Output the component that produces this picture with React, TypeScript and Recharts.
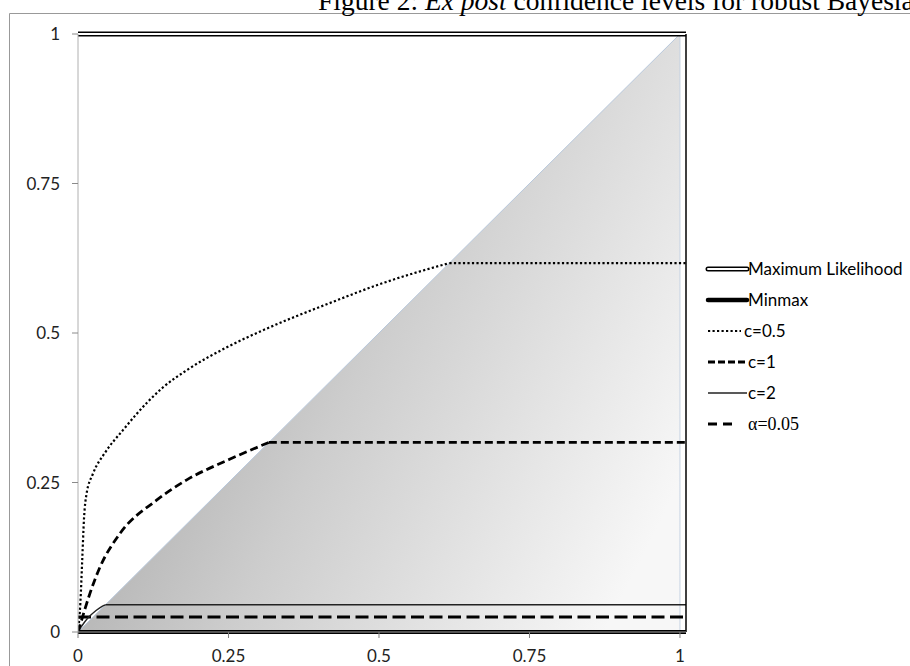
import React from "react";
import { ComposedChart, Line, Area, XAxis, YAxis, ReferenceLine } from "recharts";

// ---- data ----
const X_MAX = 1.01;
const xTicks = [0, 0.25, 0.5, 0.75, 1];
const yTicks = [0, 0.25, 0.5, 0.75, 1];

const triangleX = [0, 1];
const triangleY = [0, 1];

const c05CurveX = [0, 0.004, 0.007, 0.01, 0.014, 0.025, 0.045, 0.075, 0.116, 0.14, 0.184, 0.249, 0.315, 0.413, 0.511, 0.617];
const c05CurveY = [0, 0.05, 0.12, 0.19, 0.23, 0.265, 0.3, 0.338, 0.385, 0.408, 0.44, 0.477, 0.508, 0.548, 0.585, 0.617];
const c05Level = 0.617;

const c1CurveX = [0, 0.006, 0.012, 0.02, 0.035, 0.07, 0.13, 0.18, 0.25, 0.317];
const c1CurveY = [0, 0.02, 0.04, 0.065, 0.105, 0.165, 0.22, 0.254, 0.288, 0.317];
const c1Level = 0.317;

const c2CurveX = [0, 0.005, 0.012, 0.02, 0.03, 0.04, 0.0455];
const c2CurveY = [0, 0.008, 0.018, 0.027, 0.036, 0.043, 0.0455];
const c2Level = 0.0455;

const alphaLevel = 0.025;
const mlLevel = 1;
const minmaxLevel = 0;

const legendNames = ["Maximum Likelihood", "Minmax", "c=0.5", "c=1", "c=2", "α=0.05"];
const titleText = "Figure 2: ";
const titleItalic = "Ex post";
const titleRest = " confidence levels for robust Bayesian";

// ---- helpers ----
const pts = (xs: number[], ys: number[]) => xs.map((x, i) => ({ x, y: ys[i] }));
const flat = (from: number, level: number) => [
  { x: from, y: level },
  { x: X_MAX, y: level },
];

const triangleData = pts(triangleX, triangleY);
const triangleEdge = [
  { x: triangleX[1], y: 0 },
  { x: triangleX[1], y: triangleY[1] },
];

const SANS = "Lato, 'Liberation Sans', sans-serif";

function LegendBox() {
  const x0 = 708;
  const x1 = 747;
  const ys = [269, 300, 331, 362, 393, 424];
  const tx = 748;
  return (
    <g>
      {/* ML */}
      <line x1={x0} x2={x1} y1={ys[0]} y2={ys[0]} stroke="#000" strokeWidth={5} strokeLinecap="round" />
      <line x1={x0} x2={x1} y1={ys[0]} y2={ys[0]} stroke="#fff" strokeWidth={2} strokeLinecap="round" />
      {/* Minmax */}
      <line x1={x0} x2={x1} y1={ys[1]} y2={ys[1]} stroke="#000" strokeWidth={4.5} strokeLinecap="round" />
      {/* c=0.5 */}
      <line x1={x0} x2={x1 - 6} y1={ys[2]} y2={ys[2]} stroke="#000" strokeWidth={2.2} strokeDasharray="2.2 2.3" />
      {/* c=1 */}
      <line x1={x0} x2={x1} y1={ys[3]} y2={ys[3]} stroke="#000" strokeWidth={2.8} strokeDasharray="7 3" />
      {/* c=2 */}
      <line x1={x0} x2={x1} y1={ys[4]} y2={ys[4]} stroke="#222" strokeWidth={1.4} />
      {/* alpha */}
      <line x1={x0} x2={x0 + 24} y1={ys[5]} y2={ys[5]} stroke="#000" strokeWidth={3} strokeDasharray="9 6" />
      {legendNames.map((n, i) => (
        <text
          key={n}
          x={i === 2 ? tx - 4 : tx}
          y={ys[i]}
          dy="0.36em"
          fontFamily={i === 5 ? "'Liberation Serif', serif" : SANS}
          fontSize={i === 5 ? 18 : 17}
          fill="#000"
        >
          {n}
        </text>
      ))}
    </g>
  );
}

export default function App() {
  return (
    <div style={{ position: "fixed", left: 0, top: 0, width: 910, height: 666, overflow: "hidden", background: "#fff" }}>
      <ComposedChart width={910} height={666} margin={{ top: 34, right: 224, bottom: 4, left: 18 }}>
        <defs>
          <linearGradient id="triGrad" x1="0" y1="0.25" x2="1" y2="0.75">
            <stop offset="0" stopColor="#9a9a9a" />
            <stop offset="0.5" stopColor="#cdcdcd" />
            <stop offset="1" stopColor="#f7f7f7" />
          </linearGradient>
        </defs>
        <XAxis
          type="number"
          dataKey="x"
          domain={[0, X_MAX]}
          ticks={xTicks}
          allowDataOverflow
          height={30}
          tickSize={6}
          tickMargin={12}
          axisLine={{ stroke: "#a6a6a6" }}
          tickLine={{ stroke: "#7f7f7f" }}
          tick={{ fill: "#222", fontSize: 17, fontFamily: SANS }}
        />
        <YAxis
          type="number"
          dataKey="y"
          domain={[0, 1]}
          ticks={yTicks}
          width={60}
          tickSize={6}
          tickMargin={12}
          axisLine={{ stroke: "#b0b0b0" }}
          tickLine={{ stroke: "#8a8a8a" }}
          tick={{ fill: "#222", fontSize: 17, fontFamily: SANS }}
        />
        <Area
          data={triangleData}
          dataKey="y"
          type="linear"
          baseValue={0}
          fill="url(#triGrad)"
          fillOpacity={1}
          stroke="#b8c8dc"
          strokeWidth={1}
          isAnimationActive={false}
          dot={false}
        />
        <Line data={triangleEdge} dataKey="y" type="linear" stroke="#c5d2e2" strokeWidth={1} dot={false} isAnimationActive={false} />
        {/* alpha = 0.05 */}
        <Line data={flat(0, alphaLevel)} dataKey="y" type="linear" stroke="#000" strokeWidth={3} strokeDasharray="13 5.5" dot={false} isAnimationActive={false} />
        {/* c = 2 */}
        <Line data={pts(c2CurveX, c2CurveY)} dataKey="y" type="monotone" stroke="#222" strokeWidth={1.4} dot={false} isAnimationActive={false} />
        <Line data={flat(c2CurveX[c2CurveX.length - 1], c2Level)} dataKey="y" type="linear" stroke="#222" strokeWidth={1.4} dot={false} isAnimationActive={false} />
        {/* c = 1 */}
        <Line data={pts(c1CurveX, c1CurveY)} dataKey="y" type="monotone" stroke="#000" strokeWidth={2.8} strokeDasharray="8 4" dot={false} isAnimationActive={false} />
        <Line data={flat(c1CurveX[c1CurveX.length - 1], c1Level)} dataKey="y" type="linear" stroke="#000" strokeWidth={2.8} strokeDasharray="8 4" dot={false} isAnimationActive={false} />
        {/* c = 0.5 */}
        <Line data={pts(c05CurveX, c05CurveY)} dataKey="y" type="monotone" stroke="#000" strokeWidth={2.2} strokeDasharray="2.2 2.3" dot={false} isAnimationActive={false} />
        <Line data={flat(c05CurveX[c05CurveX.length - 1], c05Level)} dataKey="y" type="linear" stroke="#000" strokeWidth={2.2} strokeDasharray="2.2 2.3" dot={false} isAnimationActive={false} />
        {/* Minmax */}
        <Line data={flat(0, minmaxLevel)} dataKey="y" type="linear" stroke="#000" strokeWidth={4} dot={false} isAnimationActive={false} />
        {/* Maximum likelihood (double line) */}
        <Line data={flat(0, mlLevel)} dataKey="y" type="linear" stroke="#000" strokeWidth={5} dot={false} isAnimationActive={false} />
        <Line data={flat(0, mlLevel)} dataKey="y" type="linear" stroke="#fff" strokeWidth={1.8} dot={false} isAnimationActive={false} />
        <ReferenceLine x={X_MAX} stroke="#000" strokeWidth={1.5} ifOverflow="visible" />
      </ComposedChart>
      <svg width={910} height={666} style={{ position: "absolute", left: 0, top: 0, pointerEvents: "none" }}>
        <line x1={9.5} y1={13.5} x2={910} y2={13.5} stroke="#999" strokeWidth={1} />
        <line x1={9.5} y1={13.5} x2={9.5} y2={666} stroke="#999" strokeWidth={1} />
        <text x={318} y={10} fontFamily="'Liberation Serif', serif" fontSize={27.5} fill="#000">
          {titleText}
          <tspan fontStyle="italic">{titleItalic}</tspan>
          {titleRest}
        </text>
        <LegendBox />
      </svg>
    </div>
  );
}
